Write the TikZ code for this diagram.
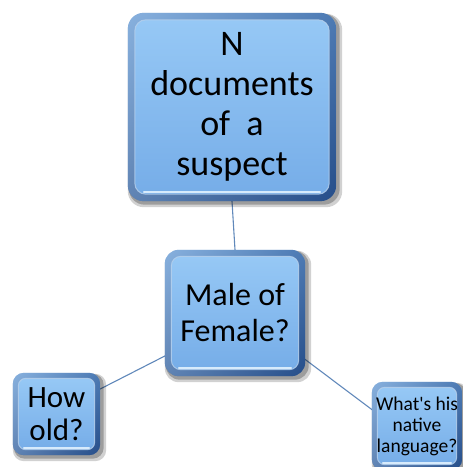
\documentclass[tikz,border=0pt]{standalone}
\usepackage{fontspec}
\setmainfont{Carlito}[Ligatures=TeXOff]
\usetikzlibrary{backgrounds}
\definecolor{facetop}{RGB}{150,200,245}
\definecolor{facebot}{RGB}{118,173,232}
\definecolor{rimtop}{RGB}{110,160,215}
\definecolor{rimbot}{RGB}{38,78,138}
\definecolor{glint}{RGB}{215,235,252}
\definecolor{linkcol}{RGB}{96,136,186}
\tikzset{
  boxtext/.style={align=center, inner sep=0pt, text=black},
  link/.style={draw=linkcol, line width=1.1pt}
}
\begin{document}
\begin{tikzpicture}[x=1pt,y=-1pt]
\useasboundingbox (0,0) rectangle (463,467);
% text nodes; the bevelled boxes are painted behind them
\node[boxtext, font=\fontsize{36}{40}\selectfont, minimum width=208pt, minimum height=188pt] (doc) at (232,107)
  {N\\documents\\of\ \ a\\suspect};
\node[boxtext, font=\fontsize{32}{36}\selectfont, minimum width=140pt, minimum height=126pt] (sex) at (235,313)
  {Male of\\Female?};
\node[boxtext, font=\fontsize{31}{33}\selectfont, minimum width=87pt, minimum height=82pt] (age) at (56.5,414)
  {How\\old?};
\node[boxtext, font=\fontsize{19.5}{21}\selectfont, minimum width=90pt, minimum height=88pt] (lang) at (417,426)
  {What's his\\native\\language?};
\begin{pgfonlayer}{background}
% connectors
\draw[link] (doc.south) -- (sex.north);
\draw[link] ([shift={(2pt,-42pt)}]sex.west) -- ([shift={(-2pt,24pt)}]age.east);
\draw[link] ([shift={(-2pt,-45pt)}]sex.east) -- ([shift={(2pt,15pt)}]lang.west);
% bevelled boxes: shadow, dark rim, light face, glint line
\foreach \n/\r/\w in {doc/16/7, sex/14/6.5, age/11/5.5, lang/11/5.5}{
  \pgfmathsetmacro{\ri}{\r-\w+2}
  \fill[black, opacity=0.18, rounded corners=\r pt]
    ([shift={(0pt,-6pt)}]\n.south west) rectangle ([shift={(6pt,-1pt)}]\n.north east);
  \fill[black, opacity=0.25, rounded corners=\r pt]
    ([shift={(1pt,-3.5pt)}]\n.south west) rectangle ([shift={(3.5pt,-1pt)}]\n.north east);
  \shade[top color=rimtop, bottom color=rimbot, rounded corners=\r pt]
    (\n.south west) rectangle (\n.north east);
  \shade[left color=rimtop!60!white, right color=rimbot, opacity=0.45, rounded corners=\r pt]
    (\n.south west) rectangle (\n.north east);
  \shade[top color=facetop, bottom color=facebot, rounded corners=\ri pt]
    ([shift={(\w pt,\w pt)}]\n.south west) rectangle ([shift={(-\w pt,-\w pt)}]\n.north east);
  \draw[rimtop!50!white, line width=1pt, opacity=0.8, rounded corners=\ri pt]
    ([shift={(\w pt,\w pt)}]\n.south west) rectangle ([shift={(-\w pt,-\w pt)}]\n.north east);
  \draw[glint, line width=1.6pt, line cap=round]
    ([shift={(\r pt,\w pt+2pt)}]\n.south west) -- ([shift={(-\r pt,\w pt+2pt)}]\n.south east);
}
\end{pgfonlayer}
\end{tikzpicture}
\end{document}
